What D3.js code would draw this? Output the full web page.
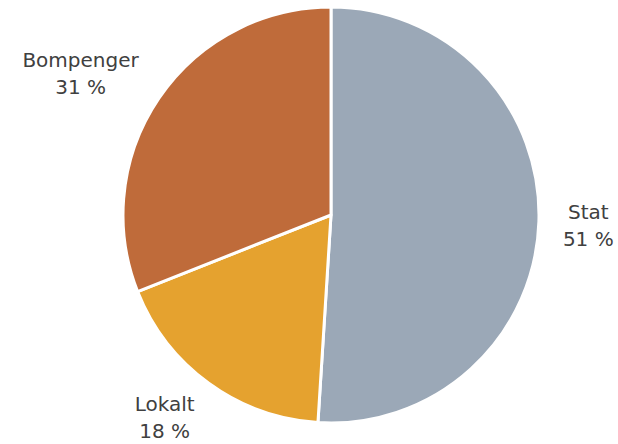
<!DOCTYPE html>
<html>
<head>
<meta charset="utf-8">
<script src="https://cdn.jsdelivr.net/npm/d3@7"></script>
<style>
  html, body { margin: 0; padding: 0; background: #ffffff; }
  svg { display: block; }
</style>
</head>
<body>
<svg id="chart" width="618" height="444"></svg>
<script>
const categories = ["Stat", "Lokalt", "Bompenger"];
const values = [51, 18, 31];
const percentLabels = ["51 %", "18 %", "31 %"];
const colors = ["#9ba8b7", "#e5a22f", "#bf6b3a"];

const width = 618, height = 444;
const cx = 331, cy = 215, radius = 208;

const svg = d3.select("#chart");
const g = svg.append("g").attr("transform", `translate(${cx},${cy})`);

const data = categories.map((c, i) => ({ name: c, value: values[i], label: percentLabels[i], color: colors[i] }));

const pie = d3.pie().value(d => d.value).sort(null).startAngle(0).endAngle(2 * Math.PI);
const arc = d3.arc().innerRadius(0).outerRadius(radius);
const arcs = pie(data);

g.selectAll("path.slice")
  .data(arcs)
  .enter().append("path")
  .attr("class", "slice")
  .attr("d", arc)
  .attr("fill", d => d.data.color)
  .attr("stroke", "#ffffff")
  .attr("stroke-width", 3)
  .attr("stroke-linejoin", "round");

// Labels outside, box touching a point just beyond the rim
const gap = 24;
const fontSize = 20;
const lineGap = 27;
const labels = g.selectAll("g.label")
  .data(arcs)
  .enter().append("g")
  .attr("class", "label");

labels.each(function(d) {
  const sel = d3.select(this);
  const t = sel.append("text")
    .attr("text-anchor", "middle")
    .attr("font-family", "DejaVu Sans, sans-serif")
    .attr("font-size", fontSize)
    .attr("fill", "#404040");
  t.append("tspan").attr("x", 0).attr("dy", -4).text(d.data.name);
  t.append("tspan").attr("x", 0).attr("dy", lineGap).text(d.data.label);
  const bb = t.node().getBBox();
  const w = bb.width, h = 40;
  const a = (d.startAngle + d.endAngle) / 2;
  const s = Math.sin(a), c = -Math.cos(a);
  const px = s * (radius + gap), py = c * (radius + gap);
  const k = 1 / Math.max(Math.abs(s), Math.abs(c));
  const bx = px + Math.sign(s) * w / 2;
  let by = py + c * k * h / 2;
  // keep the second line inside the picture
  const maxBaseline = height - 6;
  const base2 = cy + by - 4 + lineGap;
  if (base2 > maxBaseline) by -= (base2 - maxBaseline);
  sel.attr("transform", `translate(${bx},${by})`);
});
</script>
</body>
</html>
